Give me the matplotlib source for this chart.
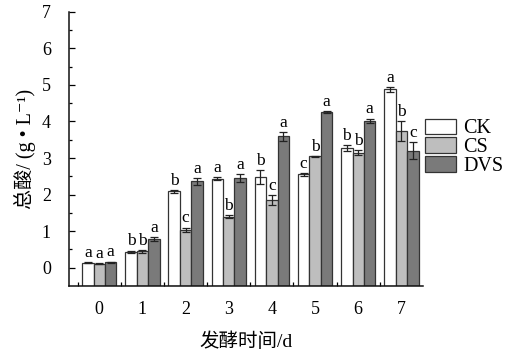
import matplotlib
matplotlib.use("Agg")
import matplotlib.pyplot as plt
import numpy as np

days = ["0", "1", "2", "3", "4", "5", "6", "7"]
series = ["CK", "CS", "DVS"]
ck = [0.14, 0.44, 2.09, 2.44, 2.48, 2.55, 3.27, 4.88]
cs = [0.11, 0.45, 1.04, 1.39, 1.85, 3.05, 3.14, 3.73]
dvs = [0.15, 0.79, 2.36, 2.45, 3.59, 4.25, 4.02, 3.20]
ck_err = [0.02, 0.03, 0.04, 0.04, 0.18, 0.03, 0.08, 0.07]
cs_err = [0.02, 0.04, 0.06, 0.04, 0.13, 0.01, 0.07, 0.27]
dvs_err = [0.02, 0.06, 0.10, 0.10, 0.13, 0.03, 0.06, 0.23]
ck_lab = ["a", "b", "b", "a", "b", "c", "b", "a"]
cs_lab = ["a", "b", "c", "b", "c", "b", "b", "b"]
dvs_lab = ["a", "a", "a", "a", "a", "a", "a", "c"]

plt.rcParams['font.family'] = ['Liberation Serif', 'Noto Sans CJK SC', 'DejaVu Serif']

fig = plt.figure(figsize=(5.09, 3.58), dpi=100)
ax = fig.add_axes([0.1356, 0.2011, 0.6954, 0.7660])

ymin = -0.5
x = np.arange(len(days))
w = 0.265
colors = ["#ffffff", "#bebebe", "#7a7a7a"]
vals = [ck, cs, dvs]
errs = [ck_err, cs_err, dvs_err]
labs = [ck_lab, cs_lab, dvs_lab]
for i, (v, e, l, c, name) in enumerate(zip(vals, errs, labs, colors, series)):
    pos = x + (i - 1) * w
    v = np.array(v)
    ax.bar(pos, v - ymin, bottom=ymin, width=w, color=c, edgecolor="#333333",
           linewidth=0.9, label=name, zorder=2)
    ax.errorbar(pos, v, yerr=e, fmt="none", ecolor="#222222", elinewidth=0.9,
                capsize=3, capthick=0.9, zorder=3)
    for p, val, err, t in zip(pos, v, e, l):
        ax.text(p, val + err + 0.03, t, ha="center", va="bottom", fontsize=12.5)

ax.set_xlim(-0.7, 7.5)
ax.set_ylim(ymin, 7)
ax.set_xticks(x)
ax.set_xticklabels(days, fontsize=13)
ax.set_xticks(np.arange(-0.5, 7.0, 1.0), minor=True)
ax.tick_params(axis='x', which='major', length=0, pad=11)
ax.tick_params(axis='x', which='minor', direction='in', length=3, width=0.9)
ax.set_yticks(np.arange(0, 8, 1))
ax.set_yticklabels([str(i) for i in range(8)], fontsize=13)
ax.set_yticks(np.arange(0.5, 7, 1.0), minor=True)
ax.tick_params(axis='y', which='major', direction='in', length=4, width=0.9, pad=13)
ax.tick_params(axis='y', which='minor', direction='in', length=2.5, width=0.9)
for s in ["top", "right"]:
    ax.spines[s].set_visible(False)
for s in ["left", "bottom"]:
    ax.spines[s].set_linewidth(1.1)
    ax.spines[s].set_color("#111111")

ax.set_xlabel("发酵时间/d", fontsize=14, labelpad=10)
ax.set_ylabel("总酸/ (g • L⁻¹)", fontsize=14.5, labelpad=4)

leg = ax.legend(loc="upper left", bbox_to_anchor=(1.005, 0.61), frameon=False,
                fontsize=14.5, handlelength=1.55, handleheight=0.8,
                handletextpad=0.35, labelspacing=-0.05, borderaxespad=0,
                borderpad=0)

fig.savefig("out.png", dpi=100)
